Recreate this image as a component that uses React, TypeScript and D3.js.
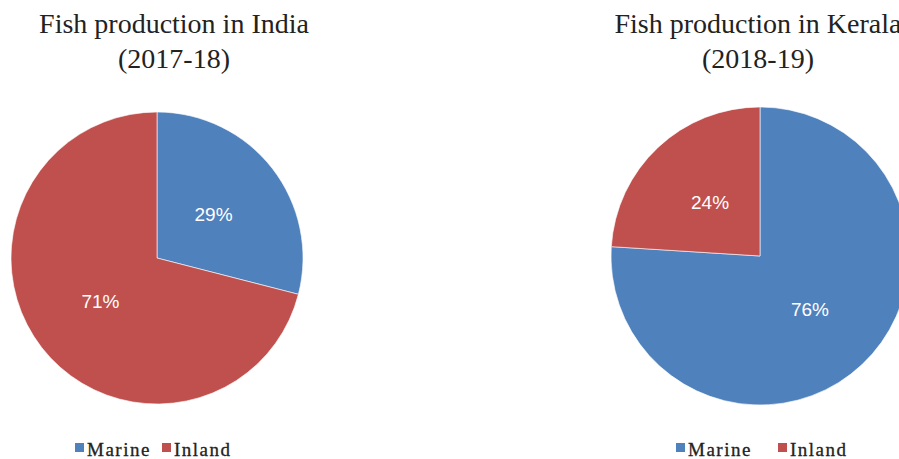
import React from "react";
import * as d3 from "d3";

const categories = ["Marine", "Inland"];
const indiaValues = [29, 71];
const keralaValues = [76, 24];
const titles = [
  ["Fish production in India", "(2017-18)"],
  ["Fish production in Kerala", "(2018-19)"],
];
const colors = ["#4F81BD", "#C0504D"];

type PieSpec = {
  values: number[];
  title: string[];
  cx: number;
  cy: number;
  r: number;
  titleX: number;
  legendX: number;
  legendGap: number;
};

function Pie({ values, title, cx, cy, r, titleX, legendX, legendGap }: PieSpec) {
  const pie = d3.pie<number>().sort(null).value((d) => d);
  const arcs = pie(values);
  const arc = d3.arc<d3.PieArcDatum<number>>().innerRadius(0).outerRadius(r);
  const labelArc = d3
    .arc<d3.PieArcDatum<number>>()
    .innerRadius(r * 0.49)
    .outerRadius(r * 0.49);
  const color = d3.scaleOrdinal<string, string>().domain(categories).range(colors);
  return (
    <g>
      <text
        x={titleX}
        y={33}
        textAnchor="middle"
        fontFamily="'Liberation Serif', serif"
        fontSize={28}
        fill="#222"
      >
        {title[0]}
      </text>
      <text
        x={titleX}
        y={68}
        textAnchor="middle"
        fontFamily="'Liberation Serif', serif"
        fontSize={28}
        fill="#222"
      >
        {title[1]}
      </text>
      <g transform={`translate(${cx},${cy})`}>
        {arcs.map((a, i) => (
          <path key={i} d={arc(a) || ""} fill={color(categories[i])} stroke="#fff" strokeWidth={0.6} />
        ))}
        {arcs.map((a, i) => {
          const [lx, ly] = labelArc.centroid(a);
          return (
            <text
              key={"l" + i}
              x={lx}
              y={ly}
              dy="0.35em"
              textAnchor="middle"
              fontFamily="'Liberation Sans', sans-serif"
              fontSize={19}
              fill="#fff"
            >
              {values[i]}%
            </text>
          );
        })}
      </g>
      {categories.map((c, i) => {
        const x = legendX + i * legendGap;
        return (
          <g key={"lg" + i}>
            <rect x={x} y={443} width={9} height={9} fill={color(c)} />
            <text
              x={x + 12}
              y={456}
              fontFamily="'Liberation Serif', serif"
              fontSize={19}
              letterSpacing={1.5}
              fill="#222"
              stroke="#222"
              strokeWidth={0.3}
            >
              {c}
            </text>
          </g>
        );
      })}
    </g>
  );
}

export default function App() {
  return (
    <svg
      width={899}
      height={459}
      style={{ position: "absolute", left: 0, top: 0, background: "#fff" }}
    >
      <rect width={899} height={459} fill="#fff" />
      <Pie
        values={indiaValues}
        title={titles[0]}
        cx={157}
        cy={258}
        r={146}
        titleX={174}
        legendX={75}
        legendGap={87}
      />
      <Pie
        values={keralaValues}
        title={titles[1]}
        cx={760}
        cy={256}
        r={149}
        titleX={758}
        legendX={676}
        legendGap={102}
      />
    </svg>
  );
}
